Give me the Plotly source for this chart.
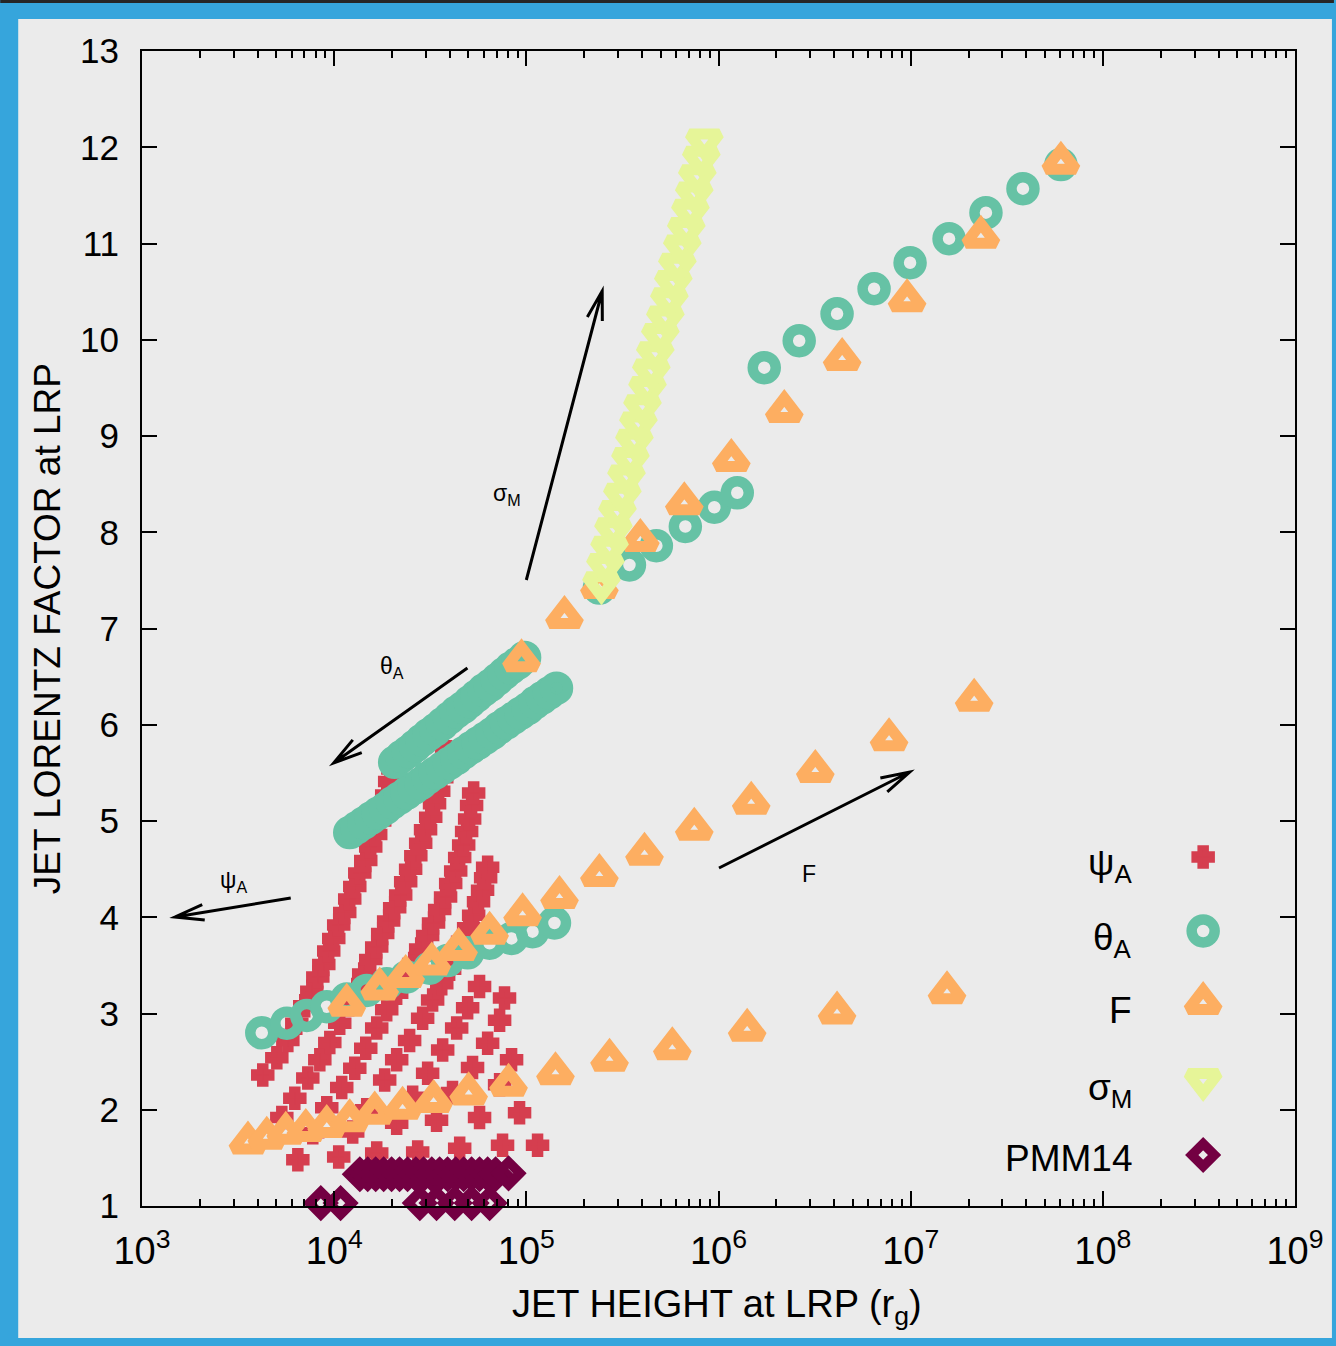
import math
import plotly.graph_objects as go

# ---------------------------------------------------------------- data --
# psi_A scan (crosses): jet height at LRP (r_g) and Lorentz factor, per branch
psi_h1 = [4.25e3, 5.03e3, 5.74e3, 6.39e3, 7.03e3, 7.65e3, 8.22e3, 8.83e3, 9.37e3, 9.95e3,
          1.056e4, 1.135e4, 1.205e4, 1.28e4, 1.359e4, 1.46e4, 1.55e4, 1.645e4, 1.726e4,
          1.81e4, 1.877e4, 1.945e4, 2.02e4]
psi_g1 = [2.36, 2.54, 2.72, 2.90, 3.08, 3.23, 3.38, 3.51, 3.65, 3.78,
          3.92, 4.05, 4.19, 4.32, 4.46, 4.59, 4.73, 4.86, 5.00,
          5.14, 5.27, 5.41, 5.54]
psi_h2 = [5.34e3, 6.24e3, 7.29e3, 8.42e3, 9.49e3, 1.069e4, 1.191e4, 1.311e4, 1.425e4, 1.55e4,
          1.665e4, 1.789e4, 1.921e4, 2.065e4, 2.219e4, 2.356e4, 2.50e4, 2.66e4, 2.82e4,
          2.99e4, 3.18e4, 3.33e4, 3.50e4, 3.63e4, 3.76e4, 3.85e4]
psi_g2 = [1.92, 2.12, 2.33, 2.52, 2.70, 2.90, 3.09, 3.25, 3.41, 3.56,
          3.69, 3.83, 3.96, 4.10, 4.23, 4.37, 4.50, 4.64, 4.77,
          4.91, 5.04, 5.18, 5.31, 5.45, 5.58, 5.72]
psi_h3 = [6.47e3, 7.74e3, 9.15e3, 1.095e4, 1.28e4, 1.46e4, 1.665e4, 1.877e4, 2.115e4, 2.356e4,
          2.593e4, 2.82e4, 3.065e4, 3.29e4, 3.54e4, 3.80e4, 4.04e4, 4.29e4, 4.50e4,
          4.72e4, 4.89e4, 5.07e4, 5.19e4, 5.32e4]
psi_g3 = [1.48, 1.76, 2.02, 2.23, 2.43, 2.64, 2.85, 3.04, 3.21, 3.37,
          3.52, 3.67, 3.81, 3.94, 4.08, 4.21, 4.35, 4.48, 4.62,
          4.75, 4.89, 5.02, 5.16, 5.29]
psi_h4 = [1.056e4, 1.249e4, 1.477e4, 1.832e4, 2.115e4, 2.47e4, 2.887e4, 3.254e4, 3.63e4,
          3.99e4, 4.34e4, 4.66e4, 5.01e4, 5.32e4, 5.64e4, 5.92e4, 6.14e4, 6.29e4]
psi_g4 = [1.51, 1.77, 2.00, 2.31, 2.52, 2.72, 2.95, 3.14, 3.31,
          3.46, 3.61, 3.75, 3.89, 4.02, 4.16, 4.28, 4.41, 4.52]
psi_h5 = [1.665e4, 2.115e4, 2.562e4, 3.065e4, 3.67e4, 4.34e4, 4.95e4, 5.71e4]
psi_g5 = [1.55, 1.86, 2.13, 2.38, 2.62, 2.85, 3.06, 3.28]
psi_h6 = [2.72e4, 3.41e4, 4.13e4, 5.25e4, 6.29e4, 7.26e4, 7.70e4]
psi_g6 = [1.56, 1.89, 2.18, 2.44, 2.69, 2.93, 3.16]
psi_h7 = [4.50e4, 5.71e4, 7.26e4, 8.38e4, 7.52e4, 9.22e4, 1.144e5]
psi_g7 = [1.60, 1.92, 2.26, 2.52, 1.63, 1.97, 1.63]

# theta_A scan (rings)
theta_h_low = [4.20e3, 5.67e3, 7.20e3, 9.15e3, 1.163e4, 1.477e4, 1.877e4, 2.384e4, 3.14e4,
               3.89e4, 4.95e4, 6.44e4, 8.38e4, 1.077e5, 1.401e5]
theta_g_low = [2.80, 2.90, 2.98, 3.07, 3.15, 3.24, 3.31, 3.38, 3.47,
               3.55, 3.63, 3.73, 3.78, 3.85, 3.94]
theta_h_band1 = [2.065e4, 2.244e4, 2.432e4, 2.642e4, 2.864e4, 3.112e4, 3.373e4, 3.664e4,
                 3.981e4, 4.315e4, 4.688e4, 5.082e4, 5.521e4, 5.998e4, 6.501e4, 7.063e4,
                 7.656e4, 8.318e4, 9.016e4, 9.795e4]
theta_g_band1 = [5.61, 5.67, 5.72, 5.78, 5.84, 5.90, 5.95, 6.01,
                 6.07, 6.13, 6.18, 6.24, 6.30, 6.36, 6.41, 6.47,
                 6.53, 6.59, 6.64, 6.70]
theta_h_band2 = [1.205e4, 1.312e4, 1.429e4, 1.556e4, 1.694e4, 1.849e4, 2.014e4, 2.193e4,
                 2.388e4, 2.600e4, 2.831e4, 3.083e4, 3.357e4, 3.656e4, 3.981e4, 4.345e4,
                 4.732e4, 5.152e4, 5.610e4, 6.109e4, 6.653e4, 7.244e4, 7.889e4, 8.590e4,
                 9.354e4, 1.021e5, 1.112e5, 1.211e5, 1.318e5, 1.435e5]
theta_g_band2 = [4.88, 4.93, 4.98, 5.03, 5.08, 5.13, 5.19, 5.24,
                 5.29, 5.34, 5.39, 5.45, 5.50, 5.55, 5.60, 5.65,
                 5.71, 5.76, 5.81, 5.86, 5.91, 5.97, 6.02, 6.07,
                 6.12, 6.17, 6.23, 6.28, 6.33, 6.38]
theta_h_high = [2.40e5, 3.44e5, 4.75e5, 6.72e5, 9.51e5, 1.252e6, 1.73e6, 2.63e6, 4.14e6,
                6.45e6, 9.93e6, 1.584e7, 2.465e7, 3.84e7, 6.05e7]
theta_g_high = [7.42, 7.66, 7.86, 8.06, 8.26, 8.41, 9.71, 9.99, 10.27,
                10.53, 10.80, 11.05, 11.32, 11.57, 11.82]

# F scan (triangles)
f_h_low = [3.56e3, 4.46e3, 5.60e3, 7.12e3, 9.15e3, 1.205e4, 1.626e4, 2.27e4, 3.29e4,
           5.01e4, 8.08e4, 1.418e5, 2.71e5, 5.75e5, 1.41e6, 4.14e6, 1.546e7]
f_g_low = [1.66, 1.71, 1.76, 1.79, 1.83, 1.89, 1.97, 2.02, 2.09,
           2.17, 2.26, 2.38, 2.52, 2.64, 2.83, 3.01, 3.22]
f_h_mid = [1.163e4, 1.726e4, 2.356e4, 3.22e4, 4.44e4, 6.44e4, 9.56e4, 1.488e5, 2.40e5,
           4.12e5, 7.48e5, 1.48e6, 3.19e6, 7.72e6, 2.14e7]
f_g_mid = [3.09, 3.26, 3.39, 3.52, 3.67, 3.84, 4.03, 4.21, 4.44,
           4.66, 4.92, 5.19, 5.52, 5.85, 6.26]
f_h_high = [9.44e4, 1.579e5, 2.40e5, 3.92e5, 6.64e5, 1.166e6, 2.20e6, 4.40e6, 9.58e6,
            2.32e7, 6.05e7]
f_g_high = [6.67, 7.12, 7.43, 7.92, 8.30, 8.75, 9.26, 9.80, 10.41,
            11.07, 11.84]

# sigma_M scan (inverted triangles)
sig_h = [2.46e5, 2.58e5, 2.71e5, 2.84e5, 2.98e5, 3.16e5, 3.32e5, 3.48e5, 3.65e5, 3.83e5,
         4.02e5, 4.27e5, 4.47e5, 4.69e5, 4.98e5, 5.29e5, 5.55e5, 5.82e5, 6.11e5, 6.48e5,
         6.80e5, 7.14e5, 7.48e5, 7.76e5, 8.14e5, 8.44e5]
sig_g = [7.47, 7.66, 7.84, 8.03, 8.21, 8.39, 8.58, 8.76, 8.95, 9.13,
         9.31, 9.50, 9.68, 9.86, 10.05, 10.23, 10.42, 10.60, 10.78, 10.97,
         11.15, 11.34, 11.52, 11.70, 11.89, 12.07]

# PMM14 sample (diamonds)
pmm_h = [1.36e4, 1.495e4, 1.645e4, 1.81e4, 1.99e4, 2.19e4, 2.41e4, 2.66e4, 2.92e4, 3.22e4,
         3.54e4, 3.89e4, 4.29e4, 4.72e4, 5.19e4, 5.71e4, 6.29e4, 6.92e4, 8.08e4,
         8.52e3, 1.08e4, 2.79e4, 3.41e4, 4.24e4, 5.19e4, 6.44e4]
pmm_g = [1.33, 1.33, 1.33, 1.33, 1.33, 1.33, 1.33, 1.33, 1.33, 1.33,
         1.33, 1.33, 1.33, 1.33, 1.33, 1.33, 1.33, 1.33, 1.34,
         1.03, 1.03, 1.03, 1.03, 1.03, 1.03, 1.03]

x_ticks = [1e3, 1e4, 1e5, 1e6, 1e7, 1e8, 1e9]
x_tick_text = ["10<sup>3</sup>", "10<sup>4</sup>", "10<sup>5</sup>", "10<sup>6</sup>",
               "10<sup>7</sup>", "10<sup>8</sup>", "10<sup>9</sup>"]
y_ticks = list(range(1, 14))

legend_names = ["ψ<sub>A</sub>", "θ<sub>A</sub>", "F", "σ<sub>M</sub>", "PMM14"]

# ---------------------------------------------------------------- style --
FONT = "Liberation Sans, Arial, Helvetica, sans-serif"
RED, TEAL, ORANGE, LIME, PLUM = "#d53e4f", "#66c2a5", "#fdae61", "#e6f598", "#730042"
FRAME_BLUE, PANEL, INK = "#36a5dc", "#ebebeb", "#000000"

W, H = 1336, 1346
ML, MR, MT, MB = 142, 39, 51, 140
PW, PH = W - ML - MR, H - MT - MB

MARKERS = [
    dict(symbol="cross", size=15, color=RED, line=dict(width=5.5, color=RED)),
    dict(symbol="circle-open", size=23, color=TEAL, line=dict(width=10.5, color=TEAL)),
    dict(symbol="triangle-up-open", size=26, color=ORANGE, line=dict(width=11, color=ORANGE)),
    dict(symbol="triangle-down-open", size=26, color=LIME, line=dict(width=11, color=LIME)),
    dict(symbol="diamond-open", size=17.5, color=PLUM, line=dict(width=9.5, color=PLUM)),
]


def paper(px, py):
    """Figure pixel -> paper fraction of the plotting area."""
    return (px - ML) / PW, (H - MB - py) / PH


fig = go.Figure()

series = [
    (psi_h1 + psi_h2 + psi_h3 + psi_h4 + psi_h5 + psi_h6 + psi_h7,
     psi_g1 + psi_g2 + psi_g3 + psi_g4 + psi_g5 + psi_g6 + psi_g7),
    (theta_h_low + theta_h_band2 + theta_h_band1 + theta_h_high,
     theta_g_low + theta_g_band2 + theta_g_band1 + theta_g_high),
    (f_h_low + f_h_mid + f_h_high, f_g_low + f_g_mid + f_g_high),
    (sig_h, sig_g),
    (pmm_h, pmm_g),
]
for (xs, ys), mk in zip(series, MARKERS):
    fig.add_trace(go.Scatter(x=xs, y=ys, mode="markers", marker=mk,
                             cliponaxis=False, hoverinfo="skip"))

# legend: labels to the left of their symbols
leg_rows_py = [857, 931, 1003, 1080, 1155]
leg_text_dy = [8, 9, 7, 10, 3]
for name, mk, py, dy in zip(legend_names, MARKERS, leg_rows_py, leg_text_dy):
    xp, yp = paper(1205, py)
    fig.add_trace(go.Scatter(x=[xp], y=[yp], mode="markers", marker=mk,
                             xaxis="x2", yaxis="y2", cliponaxis=False, hoverinfo="skip"))
    tx, ty = paper(1136, py + dy)
    fig.add_annotation(x=tx, y=ty, xref="paper", yref="paper", text=name, showarrow=False,
                       xanchor="right", yanchor="middle",
                       font=dict(family=FONT, size=37, color=INK))

# arrows with labels
arrows = [
    ((527, 580), (603, 291), "σ<sub>M</sub>", (508, 494)),
    ((468, 668), (334, 763), "θ<sub>A</sub>", (392, 667)),
    ((291, 898), (175, 917), "ψ<sub>A</sub>", (234, 881)),
    ((720, 868), (911, 772), "F", (810, 874)),
]
shapes = []
for tail, tip, label, lab in arrows:
    tx0, ty0 = paper(*tail)
    hx, hy = paper(*tip)
    ang = math.atan2(ty0 - hy, tx0 - hx)
    blen = 30.0 / PW
    spread = math.radians(15)
    b1 = (hx + blen * math.cos(ang + spread), hy + blen * math.sin(ang + spread))
    b2 = (hx + blen * math.cos(ang - spread), hy + blen * math.sin(ang - spread))
    path = (f"M {tx0:.5f},{ty0:.5f} L {hx:.5f},{hy:.5f} "
            f"M {b1[0]:.5f},{b1[1]:.5f} L {hx:.5f},{hy:.5f} L {b2[0]:.5f},{b2[1]:.5f}")
    shapes.append(dict(type="path", path=path, xref="paper", yref="paper",
                       line=dict(color=INK, width=3)))
    lx, ly = paper(*lab)
    fig.add_annotation(x=lx, y=ly, xref="paper", yref="paper", text=label, showarrow=False,
                       xanchor="center", yanchor="middle",
                       font=dict(family=FONT, size=23, color=INK))

# page frame: blue border with light panel
x0, y0 = paper(18, 1338)
x1, y1 = paper(1334, 19)
frame = [
    dict(type="rect", xref="paper", yref="paper", x0=x0, y0=y0, x1=x1, y1=y1,
         fillcolor=PANEL, line=dict(width=0), layer="below"),
]
tx0, ty0 = paper(0, 3)
tx1, ty1 = paper(W, 0)
frame.append(dict(type="rect", xref="paper", yref="paper", x0=tx0, y0=ty0, x1=tx1, y1=ty1,
                  fillcolor="#262626", line=dict(width=0), layer="below"))

# axis titles
xt, yt = paper(718, 1307)
fig.add_annotation(x=xt, y=yt, xref="paper", yref="paper",
                   text="JET HEIGHT at LRP (r<sub>g</sub>)", showarrow=False,
                   xanchor="center", yanchor="middle",
                   font=dict(family=FONT, size=38, color=INK))
xt, yt = paper(47, 629)
fig.add_annotation(x=xt, y=yt, xref="paper", yref="paper",
                   text="JET LORENTZ FACTOR at LRP", showarrow=False, textangle=-90,
                   xanchor="center", yanchor="middle",
                   font=dict(family=FONT, size=37, color=INK))

minor_x = [m * 10 ** e for e in range(3, 9) for m in range(2, 10)]

axis_common = dict(showline=True, linecolor=INK, linewidth=2, mirror="ticks",
                   ticks="inside", ticklen=15, tickwidth=1.6, tickcolor=INK,
                   showgrid=False, zeroline=False)

fig.update_layout(
    width=W, height=H,
    margin=dict(l=ML, r=MR, t=MT, b=MB, pad=0),
    paper_bgcolor=FRAME_BLUE, plot_bgcolor="rgba(0,0,0,0)",
    showlegend=False,
    shapes=frame + shapes,
    xaxis=dict(type="log", range=[3, 9], tickmode="array", tickvals=x_ticks,
               ticktext=x_tick_text, tickfont=dict(family=FONT, size=38, color=INK),
               ticklabelstandoff=10,
               minor=dict(tickmode="array", tickvals=minor_x, ticks="inside", ticklen=7,
                          tickwidth=1.6, tickcolor=INK, showgrid=False),
               **axis_common),
    yaxis=dict(range=[1, 13], tickmode="array", tickvals=y_ticks,
               tickfont=dict(family=FONT, size=35, color=INK), ticklabelstandoff=14,
               **axis_common),
    xaxis2=dict(overlaying="x", anchor="y2", range=[0, 1], visible=False),
    yaxis2=dict(overlaying="y", anchor="x2", range=[0, 1], visible=False),
)

fig.write_html("out.html")
